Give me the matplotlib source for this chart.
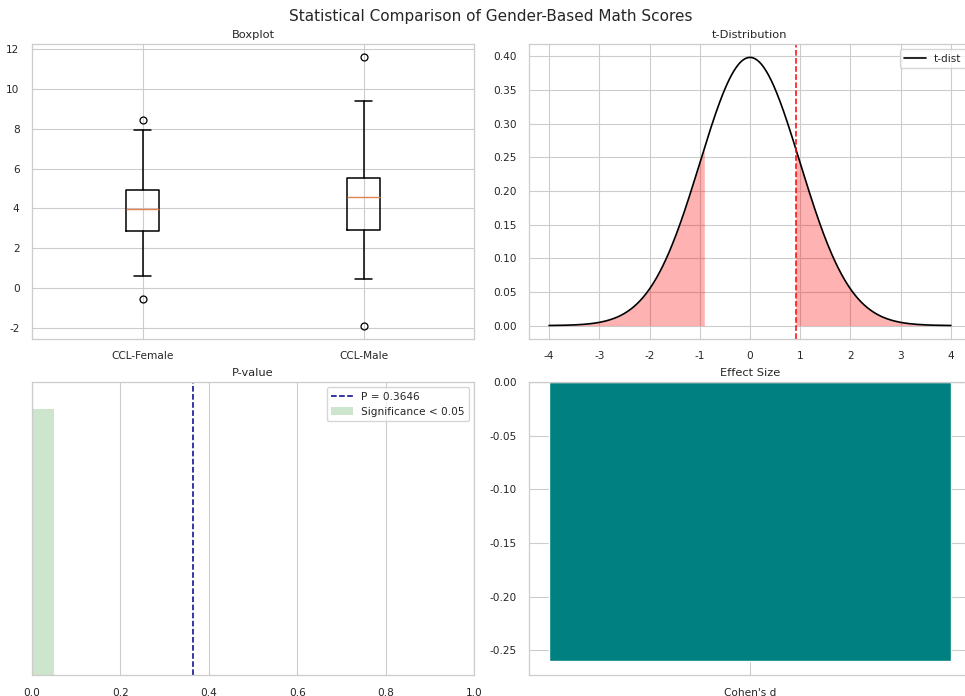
import math
import numpy as np
import matplotlib
matplotlib.use("Agg")
import matplotlib.pyplot as plt
import seaborn as sns

sns.set_theme(style="whitegrid")
plt.rcParams['font.family'] = ['DejaVu Sans']
plt.rcParams['axes.unicode_minus'] = False

# ---- data ----
groups = ["CCL-Female", "CCL-Male"]
box_q1 = [2.88, 2.92]
box_med = [3.95, 4.55]
box_q3 = [4.92, 5.53]
box_whislo = [0.58, 0.43]
box_whishi = [7.95, 9.43]
box_fliers = [[8.45, -0.57], [11.6, -1.90]]

t_stat = 0.91
df = 198
p_value = 0.3646
alpha_level = 0.05
cohens_d = -0.26
effect_labels = ["Cohen's d"]

W, H = 965, 696
fig = plt.figure(figsize=(W / 100, H / 100), dpi=100)

def px_axes(l, t, r, b):
    return fig.add_axes([l / W, 1 - b / H, (r - l) / W, (b - t) / H])

TICK = 7.6
TITLE = 8.2

ax1 = px_axes(32, 44, 474, 339)
ax2 = px_axes(529, 44, 971, 339)
ax3 = px_axes(32, 382, 474, 675)
ax4 = px_axes(529, 382, 971, 675)

for ax in (ax1, ax2, ax3, ax4):
    ax.tick_params(labelsize=TICK, pad=3)
    for s in ax.spines.values():
        s.set_linewidth(0.9)
    ax.grid(linewidth=0.8)

# Boxplot
stats = []
for i, g in enumerate(groups):
    stats.append(dict(label=g, q1=box_q1[i], med=box_med[i], q3=box_q3[i],
                      whislo=box_whislo[i], whishi=box_whishi[i],
                      fliers=box_fliers[i]))
ax1.bxp(stats, boxprops=dict(linewidth=1.1), whiskerprops=dict(linewidth=1.1),
        capprops=dict(linewidth=1.1), medianprops=dict(linewidth=1.0),
        flierprops=dict(markersize=5, markeredgewidth=0.9))
ax1.set_title("Boxplot", fontsize=TITLE, pad=4)

# t-distribution
x = np.linspace(-4, 4, 500)
c = math.exp(math.lgamma((df + 1) / 2) - math.lgamma(df / 2)) / math.sqrt(df * math.pi)
pdf = c * (1 + x ** 2 / df) ** (-(df + 1) / 2)
ax2.plot(x, pdf, color='black', linewidth=1.2, label='t-dist')
tc = abs(t_stat)
xl = np.linspace(-4, -tc, 200)
xr = np.linspace(tc, 4, 200)
fl = c * (1 + xl ** 2 / df) ** (-(df + 1) / 2)
fr = c * (1 + xr ** 2 / df) ** (-(df + 1) / 2)
ax2.fill_between(xl, fl, color='red', alpha=0.3, linewidth=0)
ax2.fill_between(xr, fr, color='red', alpha=0.3, linewidth=0)
ax2.axvline(t_stat, color='red', linestyle='--', linewidth=1.1)
ax2.set_xticks(range(-4, 5))
ax2.set_title("t-Distribution", fontsize=TITLE, pad=4)
ax2.legend(loc='upper right', fontsize=TICK)

# P-value
ax3.axvline(p_value, color='darkblue', linestyle='--', linewidth=1.1,
            label=f'P = {p_value:.4f}')
ax3.bar([alpha_level / 2], [1], width=alpha_level, color='green', alpha=0.2,
        linewidth=0, label=f'Significance < {alpha_level}')
ax3.set_xlim(0, 1)
ax3.set_ylim(0, 1.1)
ax3.set_yticks([])
ax3.set_title("P-value", fontsize=TITLE, pad=4)
ax3.legend(loc='upper right', fontsize=TICK)

# Effect size
ax4.bar(effect_labels, [cohens_d], color='teal')
ax4.axhline(0, color='gray', linestyle='--', linewidth=0.8)
ax4.set_title("Effect Size", fontsize=TITLE, pad=4)

fig.suptitle("Statistical Comparison of Gender-Based Math Scores", fontsize=11.0,
             x=491 / W, y=1 - 16 / H, va='center')

fig.savefig("out.png", dpi=100)
